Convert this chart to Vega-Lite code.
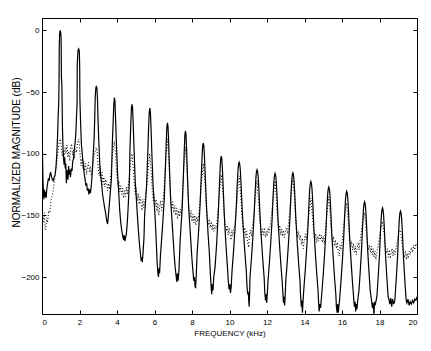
{
"$schema":"https://vega.github.io/schema/vega-lite/v6.json",
"width":375,"height":296,
"autosize":{"type":"none"},
"padding":{"left":42,"top":18,"right":14,"bottom":37},
"background":"white",
"config":{"view":{"stroke":null},"axis":{"labelFont":"Liberation Sans","titleFont":"Liberation Sans","labelFontSize":8,"titleFontSize":8,"labelColor":"black","titleColor":"black","domainColor":"black","tickColor":"black","grid":false,"titleFontWeight":"normal","domainWidth":1,"tickWidth":1}},
"datasets":{
"solid":[
{"f":0,"v":-81},{"f":0.02,"v":-95},{"f":0.05,"v":-120},{"f":0.08,"v":-134},{"f":0.1,"v":-137},{"f":0.13,"v":-129},{"f":0.16,"v":-135},{"f":0.19,"v":-131},{"f":0.22,"v":-136},{"f":0.26,"v":-128},{"f":0.3,"v":-124},{"f":0.34,"v":-120},{"f":0.38,"v":-122},{"f":0.42,"v":-117},{"f":0.46,"v":-115},{"f":0.5,"v":-118},{"f":0.55,"v":-121},{"f":0.6,"v":-122},{"f":0.65,"v":-119},{"f":0.7,"v":-117},{"f":0.75,"v":-110},{"f":0.79,"v":-100},{"f":0.83,"v":-86},{"f":0.86,"v":-70},{"f":0.89,"v":-60},{"f":0.91,"v":-40},{"f":0.92,"v":-14},{"f":0.94,"v":-3},{"f":0.97,"v":0},{"f":1.0,"v":-2},{"f":1.02,"v":-6},{"f":1.035,"v":-38},{"f":1.06,"v":-44},{"f":1.09,"v":-78},{"f":1.12,"v":-96},{"f":1.15,"v":-104},
{"f":1.18,"v":-109},{"f":1.21,"v":-103},{"f":1.24,"v":-112},{"f":1.27,"v":-108},{"f":1.3,"v":-124},{"f":1.33,"v":-113},{"f":1.36,"v":-119},{"f":1.39,"v":-121},{"f":1.42,"v":-110},{"f":1.45,"v":-117},{"f":1.48,"v":-113},{"f":1.52,"v":-119},{"f":1.56,"v":-112},{"f":1.6,"v":-114},{"f":1.64,"v":-106},{"f":1.68,"v":-104},{"f":1.72,"v":-97},{"f":1.76,"v":-92},{"f":1.8,"v":-85},{"f":1.84,"v":-70},{"f":1.87,"v":-60},{"f":1.88,"v":-28},{"f":1.92,"v":-16},{"f":1.96,"v":-15},{"f":1.99,"v":-17},{"f":2.01,"v":-30},{"f":2.02,"v":-55},{"f":2.06,"v":-76},{"f":2.1,"v":-92},
{"f":2.15,"v":-101},{"f":2.2,"v":-109},{"f":2.25,"v":-116},{"f":2.3,"v":-121},{"f":2.34,"v":-126},{"f":2.38,"v":-124},{"f":2.42,"v":-130},{"f":2.46,"v":-128},{"f":2.5,"v":-133},{"f":2.54,"v":-129},{"f":2.58,"v":-132},{"f":2.62,"v":-127},{"f":2.66,"v":-120},{"f":2.7,"v":-110},{"f":2.74,"v":-98},{"f":2.78,"v":-88},{"f":2.81,"v":-72},{"f":2.84,"v":-54},{"f":2.87,"v":-47},{"f":2.9,"v":-45},{"f":2.93,"v":-47},{"f":2.96,"v":-56},{"f":2.99,"v":-73},{"f":3.03,"v":-90},{"f":3.08,"v":-108},
{"f":3.13,"v":-118},{"f":3.18,"v":-124},{"f":3.23,"v":-133},{"f":3.28,"v":-138},{"f":3.33,"v":-143},{"f":3.38,"v":-147},{"f":3.42,"v":-151},{"f":3.46,"v":-155},{"f":3.5,"v":-157},{"f":3.53,"v":-152},{"f":3.57,"v":-145},{"f":3.64,"v":-132},{"f":3.7,"v":-121},{"f":3.75,"v":-92},{"f":3.8,"v":-72},{"f":3.83,"v":-60},{"f":3.86,"v":-54.5},{"f":3.89,"v":-57},{"f":3.92,"v":-70},{"f":3.97,"v":-92},{"f":4.03,"v":-116},{"f":4.08,"v":-128},{"f":4.14,"v":-145},
{"f":4.2,"v":-156},{"f":4.26,"v":-163},{"f":4.31,"v":-167},{"f":4.35,"v":-170},{"f":4.38,"v":-166},{"f":4.42,"v":-171},{"f":4.46,"v":-168},{"f":4.5,"v":-165},{"f":4.55,"v":-156},{"f":4.6,"v":-142},{"f":4.66,"v":-122},{"f":4.69,"v":-97},{"f":4.74,"v":-74},{"f":4.77,"v":-63},{"f":4.8,"v":-60},{"f":4.83,"v":-63},{"f":4.86,"v":-74},{"f":4.91,"v":-97},{"f":4.97,"v":-122},{"f":5.08,"v":-148},
{"f":5.14,"v":-162},{"f":5.2,"v":-174},{"f":5.25,"v":-181},{"f":5.29,"v":-187},{"f":5.32,"v":-184},{"f":5.35,"v":-188},{"f":5.39,"v":-180},{"f":5.44,"v":-168},{"f":5.47,"v":-151},{"f":5.58,"v":-125},{"f":5.64,"v":-100},{"f":5.69,"v":-77},{"f":5.72,"v":-66},{"f":5.75,"v":-63},{"f":5.78,"v":-66},{"f":5.81,"v":-77},{"f":5.86,"v":-100},{"f":5.92,"v":-125},{"f":6.03,"v":-151},
{"f":6.09,"v":-170},{"f":6.14,"v":-188},{"f":6.18,"v":-197},{"f":6.21,"v":-200},{"f":6.24,"v":-193},{"f":6.27,"v":-197},{"f":6.32,"v":-182},{"f":6.41,"v":-163},{"f":6.52,"v":-137},{"f":6.58,"v":-112},{"f":6.63,"v":-89},{"f":6.66,"v":-78},{"f":6.69,"v":-75},{"f":6.72,"v":-78},{"f":6.75,"v":-89},{"f":6.8,"v":-112},{"f":6.86,"v":-137},{"f":6.97,"v":-163},
{"f":7.04,"v":-180},{"f":7.1,"v":-192},{"f":7.15,"v":-199},{"f":7.19,"v":-204},{"f":7.22,"v":-197},{"f":7.26,"v":-203},{"f":7.3,"v":-196},{"f":7.37,"v":-170},{"f":7.48,"v":-143},{"f":7.54,"v":-118},{"f":7.59,"v":-96},{"f":7.62,"v":-85},{"f":7.65,"v":-81.5},{"f":7.68,"v":-84.5},{"f":7.71,"v":-95.5},{"f":7.76,"v":-118.5},{"f":7.82,"v":-143.5},{"f":7.93,"v":-169.5},
{"f":8.0,"v":-186},{"f":8.05,"v":-195},{"f":8.09,"v":-203},{"f":8.13,"v":-200},{"f":8.16,"v":-207},{"f":8.19,"v":-209},{"f":8.23,"v":-198},{"f":8.27,"v":-181.5},{"f":8.35,"v":-163.5},{"f":8.43,"v":-141.5},{"f":8.49,"v":-119.5},{"f":8.54,"v":-101.5},{"f":8.57,"v":-93.5},{"f":8.6,"v":-91.5},{"f":8.63,"v":-93.5},{"f":8.66,"v":-101.5},{"f":8.71,"v":-119.5},{"f":8.77,"v":-141.5},{"f":8.85,"v":-163.5},{"f":8.93,"v":-181.5},
{"f":8.98,"v":-198},{"f":9.02,"v":-208},{"f":9.05,"v":-214},{"f":9.08,"v":-206},{"f":9.12,"v":-211},{"f":9.16,"v":-200},{"f":9.23,"v":-192},{"f":9.31,"v":-174},{"f":9.39,"v":-152},{"f":9.45,"v":-130},{"f":9.5,"v":-112},{"f":9.53,"v":-104},{"f":9.56,"v":-102},{"f":9.59,"v":-104},{"f":9.62,"v":-112},{"f":9.67,"v":-130},{"f":9.73,"v":-152},{"f":9.81,"v":-174},{"f":9.89,"v":-192},
{"f":9.94,"v":-204},{"f":9.98,"v":-210},{"f":10.02,"v":-206},{"f":10.05,"v":-213},{"f":10.09,"v":-208},{"f":10.135,"v":-195},{"f":10.215,"v":-179},{"f":10.285,"v":-163},{"f":10.355,"v":-145},{"f":10.415,"v":-124},{"f":10.455,"v":-113},{"f":10.485,"v":-108.5},{"f":10.515,"v":-107},{"f":10.545,"v":-108.5},{"f":10.575,"v":-113},{"f":10.615,"v":-124},{"f":10.675,"v":-145},{"f":10.745,"v":-163},{"f":10.815,"v":-179},{"f":10.895,"v":-195},
{"f":10.93,"v":-207},{"f":10.97,"v":-214},{"f":11.0,"v":-212},{"f":11.03,"v":-220},{"f":11.05,"v":-224},{"f":11.07,"v":-215},{"f":11.09,"v":-201},{"f":11.17,"v":-185},{"f":11.24,"v":-169},{"f":11.31,"v":-151},{"f":11.37,"v":-130},{"f":11.41,"v":-119},{"f":11.44,"v":-114.5},{"f":11.47,"v":-113},{"f":11.5,"v":-114.5},{"f":11.53,"v":-119},{"f":11.57,"v":-130},{"f":11.63,"v":-151},{"f":11.7,"v":-169},{"f":11.77,"v":-185},{"f":11.85,"v":-201},
{"f":11.88,"v":-212},{"f":11.92,"v":-219},{"f":11.95,"v":-214},{"f":11.98,"v":-221},{"f":12.02,"v":-213},{"f":12.05,"v":-204},{"f":12.13,"v":-188},{"f":12.2,"v":-172},{"f":12.27,"v":-154},{"f":12.33,"v":-133},{"f":12.37,"v":-122},{"f":12.4,"v":-117.5},{"f":12.43,"v":-116},{"f":12.46,"v":-117.5},{"f":12.49,"v":-122},{"f":12.53,"v":-133},{"f":12.59,"v":-154},{"f":12.66,"v":-172},{"f":12.73,"v":-188},{"f":12.81,"v":-204},
{"f":12.85,"v":-214},{"f":12.88,"v":-221},{"f":12.91,"v":-216},{"f":12.94,"v":-223},{"f":12.97,"v":-215},{"f":13.0,"v":-203.5},{"f":13.08,"v":-187.5},{"f":13.15,"v":-171.5},{"f":13.22,"v":-153.5},{"f":13.28,"v":-132.5},{"f":13.32,"v":-121.5},{"f":13.35,"v":-117},{"f":13.38,"v":-115.5},{"f":13.41,"v":-117},{"f":13.44,"v":-121.5},{"f":13.48,"v":-132.5},{"f":13.54,"v":-153.5},{"f":13.61,"v":-171.5},{"f":13.68,"v":-187.5},{"f":13.76,"v":-203.5},
{"f":13.79,"v":-215},{"f":13.83,"v":-224},{"f":13.86,"v":-219},{"f":13.89,"v":-229},{"f":13.92,"v":-220},{"f":13.96,"v":-210.5},{"f":14.04,"v":-194.5},{"f":14.11,"v":-178.5},{"f":14.18,"v":-160.5},{"f":14.24,"v":-139.5},{"f":14.28,"v":-128.5},{"f":14.31,"v":-124},{"f":14.34,"v":-122.5},{"f":14.37,"v":-124},{"f":14.4,"v":-128.5},{"f":14.44,"v":-139.5},{"f":14.5,"v":-160.5},{"f":14.57,"v":-178.5},{"f":14.64,"v":-194.5},{"f":14.72,"v":-210.5},
{"f":14.75,"v":-220},{"f":14.78,"v":-228},{"f":14.82,"v":-222},{"f":14.86,"v":-225},{"f":14.89,"v":-219},{"f":14.915,"v":-215},{"f":14.995,"v":-199},{"f":15.065,"v":-183},{"f":15.135,"v":-165},{"f":15.195,"v":-144},{"f":15.235,"v":-133},{"f":15.265,"v":-128.5},{"f":15.295,"v":-127},{"f":15.325,"v":-128.5},{"f":15.355,"v":-133},{"f":15.395,"v":-144},{"f":15.455,"v":-165},{"f":15.525,"v":-183},{"f":15.595,"v":-199},{"f":15.675,"v":-215},
{"f":15.7,"v":-224},{"f":15.74,"v":-229},{"f":15.77,"v":-222},{"f":15.8,"v":-229},{"f":15.84,"v":-223},{"f":15.87,"v":-218.5},{"f":15.95,"v":-202.5},{"f":16.02,"v":-186.5},{"f":16.09,"v":-168.5},{"f":16.15,"v":-147.5},{"f":16.19,"v":-136.5},{"f":16.22,"v":-132},{"f":16.25,"v":-130.5},{"f":16.28,"v":-132},{"f":16.31,"v":-136.5},{"f":16.35,"v":-147.5},{"f":16.41,"v":-168.5},{"f":16.48,"v":-186.5},{"f":16.55,"v":-202.5},{"f":16.63,"v":-218.5},
{"f":16.66,"v":-224},{"f":16.7,"v":-220},{"f":16.73,"v":-228},{"f":16.77,"v":-222},{"f":16.8,"v":-226},{"f":16.83,"v":-220},{"f":16.905,"v":-211},{"f":16.975,"v":-195},{"f":17.045,"v":-177},{"f":17.105,"v":-156},{"f":17.145,"v":-145},{"f":17.175,"v":-140.5},{"f":17.205,"v":-139},{"f":17.235,"v":-140.5},{"f":17.265,"v":-145},{"f":17.305,"v":-156},{"f":17.365,"v":-177},{"f":17.435,"v":-195},{"f":17.505,"v":-211},{"f":17.585,"v":-220},
{"f":17.62,"v":-225},{"f":17.66,"v":-221},{"f":17.7,"v":-230},{"f":17.74,"v":-221},{"f":17.78,"v":-222},{"f":17.86,"v":-216},{"f":17.93,"v":-200},{"f":18.0,"v":-182},{"f":18.06,"v":-161},{"f":18.1,"v":-150},{"f":18.13,"v":-145.5},{"f":18.16,"v":-144},{"f":18.19,"v":-145.5},{"f":18.22,"v":-150},{"f":18.26,"v":-161},{"f":18.32,"v":-182},{"f":18.39,"v":-200},{"f":18.46,"v":-216},
{"f":18.5,"v":-218},{"f":18.55,"v":-222},{"f":18.6,"v":-217},{"f":18.65,"v":-224},{"f":18.7,"v":-218},{"f":18.76,"v":-222},{"f":18.82,"v":-218.5},{"f":18.89,"v":-202.5},{"f":18.96,"v":-184.5},{"f":19.02,"v":-163.5},{"f":19.06,"v":-152.5},{"f":19.09,"v":-148},{"f":19.12,"v":-146.5},{"f":19.15,"v":-148},{"f":19.18,"v":-152.5},{"f":19.22,"v":-163.5},{"f":19.28,"v":-184.5},{"f":19.35,"v":-202.5},{"f":19.42,"v":-218.5},
{"f":19.46,"v":-221},{"f":19.52,"v":-218},{"f":19.58,"v":-223},{"f":19.64,"v":-220},{"f":19.7,"v":-222},{"f":19.76,"v":-219},{"f":19.82,"v":-221},{"f":19.88,"v":-218},{"f":19.94,"v":-219},{"f":20,"v":-216}
],
"dotted":[
{"f":0,"v":-135},{"f":0.04,"v":-150},{"f":0.08,"v":-155},{"f":0.12,"v":-148},{"f":0.16,"v":-160},{"f":0.2,"v":-162},{"f":0.25,"v":-152},{"f":0.3,"v":-156},{"f":0.36,"v":-146},{"f":0.42,"v":-148},{"f":0.48,"v":-138},{"f":0.54,"v":-134},{"f":0.6,"v":-130},{"f":0.66,"v":-122},{"f":0.72,"v":-116},{"f":0.78,"v":-108},{"f":0.84,"v":-100},{"f":0.9,"v":-92},{"f":0.97,"v":-88},{"f":1.03,"v":-96},{"f":1.08,"v":-102},{"f":1.13,"v":-97},{"f":1.18,"v":-103},{"f":1.23,"v":-95},{"f":1.28,"v":-100},{"f":1.33,"v":-93},{"f":1.38,"v":-103},{"f":1.43,"v":-98},{"f":1.48,"v":-106},{"f":1.53,"v":-95},{"f":1.58,"v":-92},{"f":1.63,"v":-101},{"f":1.68,"v":-97},{"f":1.73,"v":-104},{"f":1.78,"v":-96},{"f":1.84,"v":-99},{"f":1.9,"v":-91},{"f":1.96,"v":-88},{"f":2.02,"v":-99},{"f":2.08,"v":-110},{"f":2.13,"v":-104},{"f":2.18,"v":-112},{"f":2.23,"v":-106},{"f":2.28,"v":-114},{"f":2.33,"v":-108},{"f":2.38,"v":-117},{"f":2.43,"v":-111},{"f":2.48,"v":-107},{"f":2.53,"v":-115},{"f":2.58,"v":-110},{"f":2.63,"v":-118},{"f":2.68,"v":-112},{"f":2.74,"v":-106},{"f":2.8,"v":-100},{"f":2.85,"v":-97},{"f":2.9,"v":-95},{"f":2.95,"v":-100},{"f":3.0,"v":-112},{"f":3.05,"v":-118},{"f":3.1,"v":-110},{"f":3.15,"v":-122},{"f":3.2,"v":-115},{"f":3.25,"v":-125},{"f":3.3,"v":-119},{"f":3.35,"v":-127},{"f":3.4,"v":-121},{"f":3.45,"v":-124},{"f":3.5,"v":-130},{"f":3.55,"v":-124},{"f":3.6,"v":-129},{"f":3.66,"v":-120},{"f":3.72,"v":-108},{"f":3.78,"v":-97},{"f":3.86,"v":-90},{"f":3.93,"v":-102},{"f":3.99,"v":-118},{"f":4.05,"v":-126},{"f":4.1,"v":-122},{"f":4.15,"v":-131},{"f":4.2,"v":-126},{"f":4.25,"v":-133},{"f":4.3,"v":-128},{"f":4.35,"v":-136},{"f":4.4,"v":-130},{"f":4.45,"v":-135},{"f":4.5,"v":-127},{"f":4.55,"v":-133},{"f":4.6,"v":-126},{"f":4.66,"v":-118},{"f":4.72,"v":-108},{"f":4.8,"v":-100},{"f":4.87,"v":-112},{"f":4.93,"v":-126},{"f":4.98,"v":-133},{"f":5.03,"v":-128},{"f":5.08,"v":-138},{"f":5.13,"v":-132},{"f":5.18,"v":-141},{"f":5.23,"v":-135},{"f":5.28,"v":-140},{"f":5.33,"v":-146},{"f":5.38,"v":-137},{"f":5.43,"v":-144},{"f":5.48,"v":-139},{"f":5.53,"v":-133},{"f":5.6,"v":-125},{"f":5.67,"v":-112},{"f":5.75,"v":-100},{"f":5.82,"v":-114},{"f":5.88,"v":-130},{"f":5.93,"v":-138},{"f":5.98,"v":-133},{"f":6.03,"v":-143},{"f":6.08,"v":-137},{"f":6.13,"v":-147},{"f":6.18,"v":-140},{"f":6.23,"v":-150},{"f":6.28,"v":-143},{"f":6.33,"v":-138},{"f":6.38,"v":-146},{"f":6.43,"v":-140},{"f":6.48,"v":-135},{"f":6.55,"v":-118},{"f":6.62,"v":-100},{"f":6.69,"v":-88},{"f":6.76,"v":-104},{"f":6.82,"v":-125},{"f":6.88,"v":-140},{"f":6.93,"v":-145},{"f":6.98,"v":-139},{"f":7.03,"v":-148},{"f":7.08,"v":-142},{"f":7.13,"v":-150},{"f":7.18,"v":-144},{"f":7.23,"v":-153},{"f":7.28,"v":-146},{"f":7.33,"v":-151},{"f":7.38,"v":-145},{"f":7.43,"v":-150},{"f":7.5,"v":-130},{"f":7.57,"v":-110},{"f":7.65,"v":-95},{"f":7.72,"v":-110},{"f":7.78,"v":-130},{"f":7.84,"v":-146},{"f":7.9,"v":-152},{"f":7.95,"v":-146},{"f":8.0,"v":-155},{"f":8.05,"v":-149},{"f":8.1,"v":-156},{"f":8.15,"v":-150},{"f":8.2,"v":-158},{"f":8.25,"v":-151},{"f":8.3,"v":-155},{"f":8.36,"v":-149},{"f":8.42,"v":-140},{"f":8.5,"v":-125},{"f":8.6,"v":-108},{"f":8.68,"v":-122},{"f":8.75,"v":-140},{"f":8.81,"v":-152},{"f":8.87,"v":-158},{"f":8.92,"v":-153},{"f":8.97,"v":-160},{"f":9.02,"v":-155},{"f":9.07,"v":-162},{"f":9.12,"v":-157},{"f":9.17,"v":-163},{"f":9.22,"v":-158},{"f":9.28,"v":-161},{"f":9.34,"v":-154},{"f":9.4,"v":-145},{"f":9.48,"v":-130},{"f":9.56,"v":-117},{"f":9.64,"v":-130},{"f":9.71,"v":-148},{"f":9.77,"v":-158},{"f":9.83,"v":-163},{"f":9.88,"v":-158},{"f":9.93,"v":-166},{"f":9.98,"v":-160},{"f":10.03,"v":-165},{"f":10.08,"v":-170},{"f":10.13,"v":-162},{"f":10.18,"v":-167},{"f":10.24,"v":-160},{"f":10.3,"v":-158},{"f":10.37,"v":-145},{"f":10.44,"v":-130},{"f":10.515,"v":-118},{"f":10.59,"v":-132},{"f":10.66,"v":-150},{"f":10.72,"v":-160},{"f":10.77,"v":-165},{"f":10.82,"v":-160},{"f":10.87,"v":-168},{"f":10.92,"v":-163},{"f":10.97,"v":-172},{"f":11.02,"v":-176},{"f":11.07,"v":-166},{"f":11.12,"v":-162},{"f":11.17,"v":-167},{"f":11.22,"v":-158},{"f":11.28,"v":-152},{"f":11.35,"v":-140},{"f":11.42,"v":-128},{"f":11.47,"v":-122},{"f":11.53,"v":-135},{"f":11.6,"v":-152},{"f":11.66,"v":-162},{"f":11.71,"v":-167},{"f":11.76,"v":-161},{"f":11.81,"v":-166},{"f":11.86,"v":-160},{"f":11.91,"v":-168},{"f":11.96,"v":-163},{"f":12.01,"v":-167},{"f":12.06,"v":-160},{"f":12.11,"v":-164},{"f":12.17,"v":-158},{"f":12.24,"v":-150},{"f":12.32,"v":-136},{"f":12.43,"v":-122},{"f":12.5,"v":-138},{"f":12.57,"v":-155},{"f":12.63,"v":-163},{"f":12.68,"v":-158},{"f":12.73,"v":-166},{"f":12.78,"v":-161},{"f":12.83,"v":-167},{"f":12.88,"v":-162},{"f":12.93,"v":-168},{"f":12.98,"v":-163},{"f":13.03,"v":-160},{"f":13.09,"v":-165},{"f":13.15,"v":-156},{"f":13.22,"v":-145},{"f":13.3,"v":-130},{"f":13.38,"v":-120},{"f":13.46,"v":-135},{"f":13.53,"v":-152},{"f":13.59,"v":-162},{"f":13.64,"v":-168},{"f":13.69,"v":-163},{"f":13.74,"v":-170},{"f":13.79,"v":-166},{"f":13.84,"v":-174},{"f":13.89,"v":-169},{"f":13.94,"v":-177},{"f":13.99,"v":-170},{"f":14.04,"v":-165},{"f":14.1,"v":-170},{"f":14.16,"v":-160},{"f":14.23,"v":-150},{"f":14.34,"v":-136},{"f":14.42,"v":-150},{"f":14.49,"v":-163},{"f":14.55,"v":-170},{"f":14.6,"v":-165},{"f":14.65,"v":-172},{"f":14.7,"v":-167},{"f":14.75,"v":-171},{"f":14.8,"v":-165},{"f":14.85,"v":-170},{"f":14.9,"v":-166},{"f":14.95,"v":-172},{"f":15.0,"v":-167},{"f":15.06,"v":-173},{"f":15.12,"v":-163},{"f":15.2,"v":-148},{"f":15.295,"v":-135},{"f":15.37,"v":-150},{"f":15.44,"v":-165},{"f":15.5,"v":-172},{"f":15.55,"v":-167},{"f":15.6,"v":-175},{"f":15.65,"v":-170},{"f":15.7,"v":-177},{"f":15.75,"v":-172},{"f":15.8,"v":-180},{"f":15.85,"v":-183},{"f":15.9,"v":-174},{"f":15.95,"v":-178},{"f":16.01,"v":-170},{"f":16.08,"v":-160},{"f":16.16,"v":-148},{"f":16.25,"v":-140},{"f":16.33,"v":-155},{"f":16.4,"v":-168},{"f":16.46,"v":-176},{"f":16.51,"v":-171},{"f":16.56,"v":-178},{"f":16.61,"v":-173},{"f":16.66,"v":-180},{"f":16.71,"v":-175},{"f":16.76,"v":-182},{"f":16.81,"v":-176},{"f":16.86,"v":-172},{"f":16.91,"v":-178},{"f":16.97,"v":-170},{"f":17.04,"v":-162},{"f":17.12,"v":-154},{"f":17.205,"v":-148},{"f":17.28,"v":-160},{"f":17.35,"v":-172},{"f":17.41,"v":-178},{"f":17.46,"v":-174},{"f":17.51,"v":-180},{"f":17.56,"v":-175},{"f":17.61,"v":-182},{"f":17.66,"v":-177},{"f":17.71,"v":-184},{"f":17.76,"v":-179},{"f":17.81,"v":-186},{"f":17.86,"v":-180},{"f":17.92,"v":-176},{"f":17.99,"v":-168},{"f":18.07,"v":-160},{"f":18.16,"v":-155},{"f":18.24,"v":-165},{"f":18.31,"v":-176},{"f":18.37,"v":-181},{"f":18.42,"v":-177},{"f":18.47,"v":-184},{"f":18.52,"v":-178},{"f":18.57,"v":-185},{"f":18.62,"v":-180},{"f":18.67,"v":-177},{"f":18.72,"v":-183},{"f":18.77,"v":-178},{"f":18.83,"v":-182},{"f":18.9,"v":-175},{"f":18.98,"v":-168},{"f":19.05,"v":-163},{"f":19.12,"v":-162},{"f":19.2,"v":-172},{"f":19.27,"v":-180},{"f":19.33,"v":-184},{"f":19.38,"v":-179},{"f":19.43,"v":-186},{"f":19.48,"v":-181},{"f":19.53,"v":-185},{"f":19.58,"v":-179},{"f":19.64,"v":-182},{"f":19.7,"v":-176},{"f":19.76,"v":-180},{"f":19.82,"v":-174},{"f":19.88,"v":-178},{"f":19.94,"v":-173},{"f":20,"v":-176}
]},
"layer":[
{"data":{"name":"dotted"},
 "mark":{"type":"line","color":"black","strokeWidth":1,"strokeDash":[1,2],"clip":true},
 "encoding":{
  "x":{"field":"f","type":"quantitative","scale":{"domain":[0,20],"nice":false,"zero":false},"axis":{"orient":"top","labels":false,"title":null,"tickSize":-4,"values":[0,2,4,6,8,10,12,14,16,18,20]}},
  "y":{"field":"v","type":"quantitative","scale":{"domain":[-230,10],"nice":false,"zero":false},"axis":{"orient":"right","labels":false,"title":null,"tickSize":-4,"values":[-200,-150,-100,-50,0]}}}},
{"data":{"name":"solid"},
 "mark":{"type":"line","color":"black","strokeWidth":1.2,"clip":true},
 "encoding":{
  "x":{"field":"f","type":"quantitative","scale":{"domain":[0,20],"nice":false,"zero":false},"axis":{"orient":"bottom","title":"FREQUENCY (kHz)","tickSize":-4,"labelPadding":8,"titlePadding":3,"values":[0,2,4,6,8,10,12,14,16,18,20]}},
  "y":{"field":"v","type":"quantitative","scale":{"domain":[-230,10],"nice":false,"zero":false},"axis":{"orient":"left","title":"NORMALIZED MAGNITUDE (dB)","titleFontSize":10,"tickSize":-4,"labelPadding":7,"titleX":-21,"titleY":134,"values":[-200,-150,-100,-50,0]}}}}
],
"resolve":{"axis":{"x":"independent","y":"independent"}}
}
